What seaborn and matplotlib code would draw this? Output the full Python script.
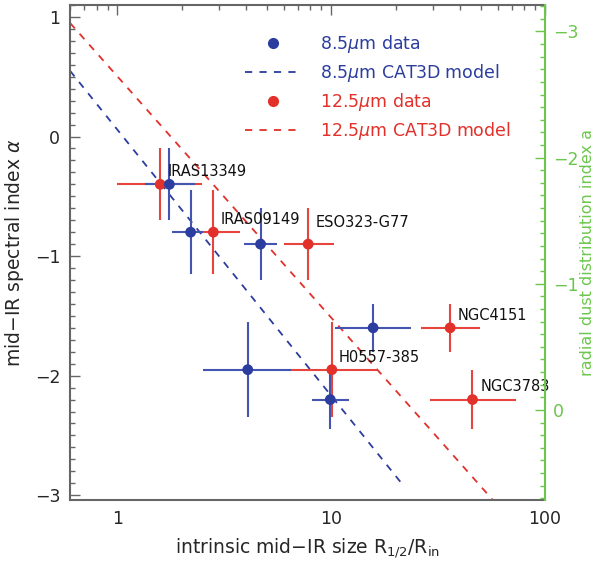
import numpy as np
import pandas as pd
import matplotlib
matplotlib.use("Agg")
import matplotlib.pyplot as plt
from matplotlib.lines import Line2D
from matplotlib.ticker import MultipleLocator, FixedLocator, NullFormatter
import seaborn as sns

sns.set_style("white")
plt.rcParams['font.family'] = ['DejaVu Sans']

# ---- data ----
names_blue = ["IRAS13349", "", "", "", "", ""]
blue_x = [1.75, 2.2, 4.67, 4.07, 15.7, 9.9]
blue_y = [-0.40, -0.80, -0.90, -1.95, -1.60, -2.20]
blue_xlo = [1.34, 1.80, 3.90, 2.50, 10.4, 8.1]
blue_xhi = [2.31, 2.50, 5.60, 6.50, 23.5, 12.1]
blue_yerr = [0.30, 0.35, 0.30, 0.40, 0.20, 0.25]

names_red = ["", "IRAS09149", "ESO323-G77", "H0557-385", "NGC4151", "NGC3783"]
red_x = [1.585, 2.81, 7.8, 10.07, 36.0, 45.8]
red_y = [-0.40, -0.80, -0.90, -1.95, -1.60, -2.20]
red_xlo = [1.0, 2.1, 6.0, 6.5, 26.3, 29.0]
red_xhi = [2.48, 3.73, 10.3, 16.3, 49.7, 72.8]
red_yerr = [0.30, 0.35, 0.30, 0.40, 0.20, 0.25]

# label offsets in pixels (dx, dy) relative to point
blue_lab_off = [(-2, 5), None, None, None, None, None]
red_lab_off = [None, (7, 5), (7, 14), (7, 5), (7, 5), (8, 6)]

model_blue_x = [0.6, 22.0]
model_blue_y = [0.55, -2.93]
model_red_x = [0.6, 57.0]
model_red_y = [0.95, -3.04]

BLUE = "#2b3d9e"
BLUE_E = "#4355b0"
RED = "#e2302a"
RED_E = "#e6443c"
GREEN = "#6cc64c"
GRAY = "#666666"

fig = plt.figure(figsize=(5.98, 5.64), dpi=100)
ax = fig.add_axes([70/598, 1-500/564, (545-70)/598, (500-5)/564])

# model lines
dfb = pd.DataFrame({"x": model_blue_x, "y": model_blue_y})
dfr = pd.DataFrame({"x": model_red_x, "y": model_red_y})
sns.lineplot(data=dfb, x="x", y="y", ax=ax, color=BLUE, lw=1.3, dashes=False, zorder=2)
sns.lineplot(data=dfr, x="x", y="y", ax=ax, color=RED, lw=1.3, dashes=False, zorder=2)
for l in ax.lines:
    l.set_linestyle((0, (4, 4)))

# error bars
bx = np.array(blue_x); rx = np.array(red_x)
ax.errorbar(red_x, red_y, xerr=[rx - np.array(red_xlo), np.array(red_xhi) - rx],
            yerr=red_yerr, fmt='none', ecolor=RED_E, elinewidth=1.5, capsize=0, zorder=3)
ax.errorbar(blue_x, blue_y, xerr=[bx - np.array(blue_xlo), np.array(blue_xhi) - bx],
            yerr=blue_yerr, fmt='none', ecolor=BLUE_E, elinewidth=1.5, capsize=0, zorder=3)

dpts = pd.concat([
    pd.DataFrame({"x": red_x, "y": red_y, "band": "12.5"}),
    pd.DataFrame({"x": blue_x, "y": blue_y, "band": "8.5"}),
])
sns.scatterplot(data=dpts, x="x", y="y", hue="band", palette={"8.5": BLUE, "12.5": RED},
                s=60, edgecolor="none", ax=ax, legend=False, zorder=4)

ax.set_xscale("log")
ax.set_xlim(0.6, 100)
ax.set_ylim(-3.04, 1.1)

# annotations
for n, x, y, off in zip(names_blue, blue_x, blue_y, blue_lab_off):
    if n:
        ax.annotate(n, (x, y), xytext=(off[0]*0.72, off[1]*0.72), textcoords="offset points",
                    ha="left", va="bottom", fontsize=10.5, color="#111111")
for n, x, y, off in zip(names_red, red_x, red_y, red_lab_off):
    if n:
        ax.annotate(n, (x, y), xytext=(off[0]*0.72, off[1]*0.72), textcoords="offset points",
                    ha="left", va="bottom", fontsize=10.5, color="#111111")

# axes styling
ax.set_xlabel(r"intrinsic mid$-$IR size R$_{1/2}$/R$_{\rm in}$", fontsize=13.5, labelpad=6)
ax.set_ylabel(r"mid$-$IR spectral index $\alpha$", fontsize=13.5, labelpad=6)
ax.yaxis.set_major_locator(MultipleLocator(1))
ax.yaxis.set_minor_locator(MultipleLocator(0.1))
ax.xaxis.set_major_locator(FixedLocator([1, 10, 100]))
ax.set_xticklabels(["1", "10", "100"])
ax.xaxis.set_minor_locator(FixedLocator([a*b for b in (0.1, 1, 10) for a in range(2, 10)]))
ax.xaxis.set_minor_formatter(NullFormatter())
ax.tick_params(axis="both", which="major", direction="in", length=7, width=1, color=GRAY,
               labelsize=12.5, top=True, right=False, pad=7)
ax.tick_params(axis="both", which="minor", direction="in", length=3.5, width=1, color=GRAY,
               top=True, right=False)
for s in ["left", "bottom", "top"]:
    ax.spines[s].set_color(GRAY)
    ax.spines[s].set_linewidth(1.5)
ax.spines["right"].set_visible(False)

# right axis
ax2 = ax.twinx()
ax2.set_ylim(0.714, -3.21)
ax2.yaxis.set_major_locator(MultipleLocator(1))
ax2.yaxis.set_minor_locator(MultipleLocator(0.1))
ax2.tick_params(axis="y", which="major", direction="in", length=7, width=1, color=GREEN,
                labelcolor=GREEN, labelsize=12.5, pad=6)
ax2.tick_params(axis="y", which="minor", direction="in", length=3.5, width=1, color=GREEN)
for s in ["left", "bottom", "top"]:
    ax2.spines[s].set_visible(False)
ax2.spines["right"].set_color(GREEN)
ax2.spines["right"].set_linewidth(1.5)
ax2.set_ylabel("radial dust distribution index a", color=GREEN, fontsize=11.5,
               rotation=90, va="center", ha="center")
ax2.yaxis.set_label_coords((588 - 70) / 475, 0.5)

# legend
handles = [
    Line2D([], [], color=BLUE, marker="o", ls="none", ms=7),
    Line2D([], [], color=BLUE, ls=(0, (4, 4)), lw=1.3),
    Line2D([], [], color=RED, marker="o", ls="none", ms=7),
    Line2D([], [], color=RED, ls=(0, (4, 4)), lw=1.3),
]
labels = [r"8.5$\mu$m data", r"8.5$\mu$m CAT3D model",
          r"12.5$\mu$m data", r"12.5$\mu$m CAT3D model"]
leg = ax.legend(handles, labels, loc="upper left", bbox_to_anchor=(245/598, 1-33/564),
                bbox_transform=fig.transFigure, frameon=False, borderpad=0, borderaxespad=0,
                fontsize=12.5, handlelength=3.2, handletextpad=1.1, labelspacing=0.4,
                labelcolor=[BLUE, BLUE, RED, RED])

fig.savefig("out.png", dpi=100)
